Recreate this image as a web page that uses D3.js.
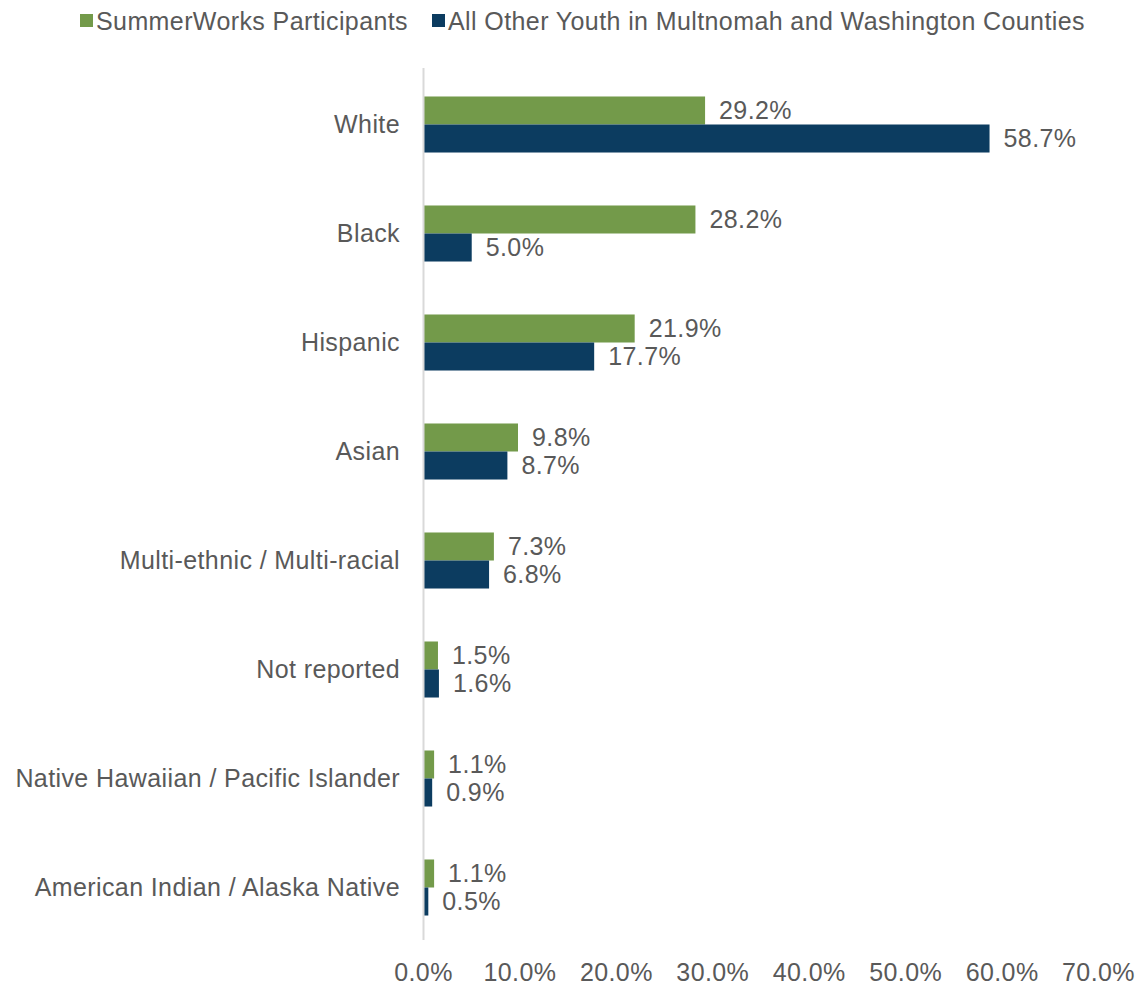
<!DOCTYPE html>
<html>
<head>
<meta charset="utf-8">
<script src="https://cdn.jsdelivr.net/npm/d3@7"></script>
<style>
  body { margin: 0; background: #fff; }
  text { font-family: "Liberation Sans", Arial, sans-serif; fill: #595959; letter-spacing: 0.4px; }
</style>
</head>
<body>
<div id="chart"></div>
<script>
const categories = ['White', 'Black', 'Hispanic', 'Asian', 'Multi-ethnic / Multi-racial',
    'Not reported', 'Native Hawaiian / Pacific Islander', 'American Indian / Alaska Native'];
const seriesNames = ['SummerWorks Participants', 'All Other Youth in Multnomah and Washington Counties'];
const summerWorks = [29.2, 28.2, 21.9, 9.8, 7.3, 1.5, 1.1, 1.1];
const otherYouth = [58.7, 5.0, 17.7, 8.7, 6.8, 1.6, 0.9, 0.5];
const xTicks = [0, 10, 20, 30, 40, 50, 60, 70];

const colors = ['#739a4a', '#0c3c60'];

const width = 1139, height = 985;
const fontSize = '25px';

const svg = d3.select('#chart').append('svg')
    .attr('width', width)
    .attr('height', height);

const x = d3.scaleLinear().domain([0, 70]).range([423.5, 1098.5]);

const y = d3.scaleBand()
    .domain(categories)
    .range([70, 942])
    .paddingInner(0.486)
    .paddingOuter(0.243);

const sub = d3.scaleBand()
    .domain([0, 1])
    .range([0, y.bandwidth()]);

let rows = categories.map((c, i) => ({cat: c, vals: [summerWorks[i], otherYouth[i]]}));

// bars
let groups = svg.selectAll('g.row')
    .data(rows)
    .enter()
    .append('g')
    .attr('class', 'row')
    .attr('transform', d => 'translate(0,' + y(d.cat) + ')');

groups.selectAll('rect')
    .data(d => d.vals)
    .enter()
    .append('rect')
    .attr('x', x(0))
    .attr('y', (d, i) => sub(i))
    .attr('width', d => x(d) - x(0))
    .attr('height', sub.bandwidth())
    .attr('fill', (d, i) => colors[i]);

groups.selectAll('text.val')
    .data(d => d.vals)
    .enter()
    .append('text')
    .attr('class', 'val')
    .attr('x', d => x(d) + 14)
    .attr('y', (d, i) => sub(i) + sub.bandwidth() / 2)
    .attr('dy', '0.35em')
    .attr('font-size', fontSize)
    .text(d => d.toFixed(1) + '%');

// category labels
svg.selectAll('text.cat')
    .data(categories)
    .enter()
    .append('text')
    .attr('class', 'cat')
    .attr('x', 400)
    .attr('y', d => y(d) + y.bandwidth() / 2)
    .attr('dy', '0.35em')
    .attr('text-anchor', 'end')
    .attr('font-size', fontSize)
    .text(d => d);

// vertical axis line
svg.append('line')
    .attr('x1', x(0)).attr('x2', x(0))
    .attr('y1', 68).attr('y2', 940)
    .attr('stroke', '#d9d9d9')
    .attr('stroke-width', 2);

// x tick labels
svg.selectAll('text.tick')
    .data(xTicks)
    .enter()
    .append('text')
    .attr('class', 'tick')
    .attr('x', d => x(d))
    .attr('y', 972)
    .attr('dy', '0.35em')
    .attr('text-anchor', 'middle')
    .attr('font-size', fontSize)
    .text(d => d.toFixed(1) + '%');

// legend
const legendX = [80, 432];
let legend = svg.selectAll('g.legend')
    .data(seriesNames)
    .enter()
    .append('g')
    .attr('class', 'legend')
    .attr('transform', (d, i) => 'translate(' + legendX[i] + ',21)');

legend.append('rect')
    .attr('x', 0)
    .attr('y', -7)
    .attr('width', 13)
    .attr('height', 13)
    .attr('fill', (d, i) => colors[i]);

legend.append('text')
    .attr('x', 16)
    .attr('y', 0)
    .attr('dy', '0.35em')
    .attr('font-size', fontSize)
    .text(d => d);
</script>
</body>
</html>
